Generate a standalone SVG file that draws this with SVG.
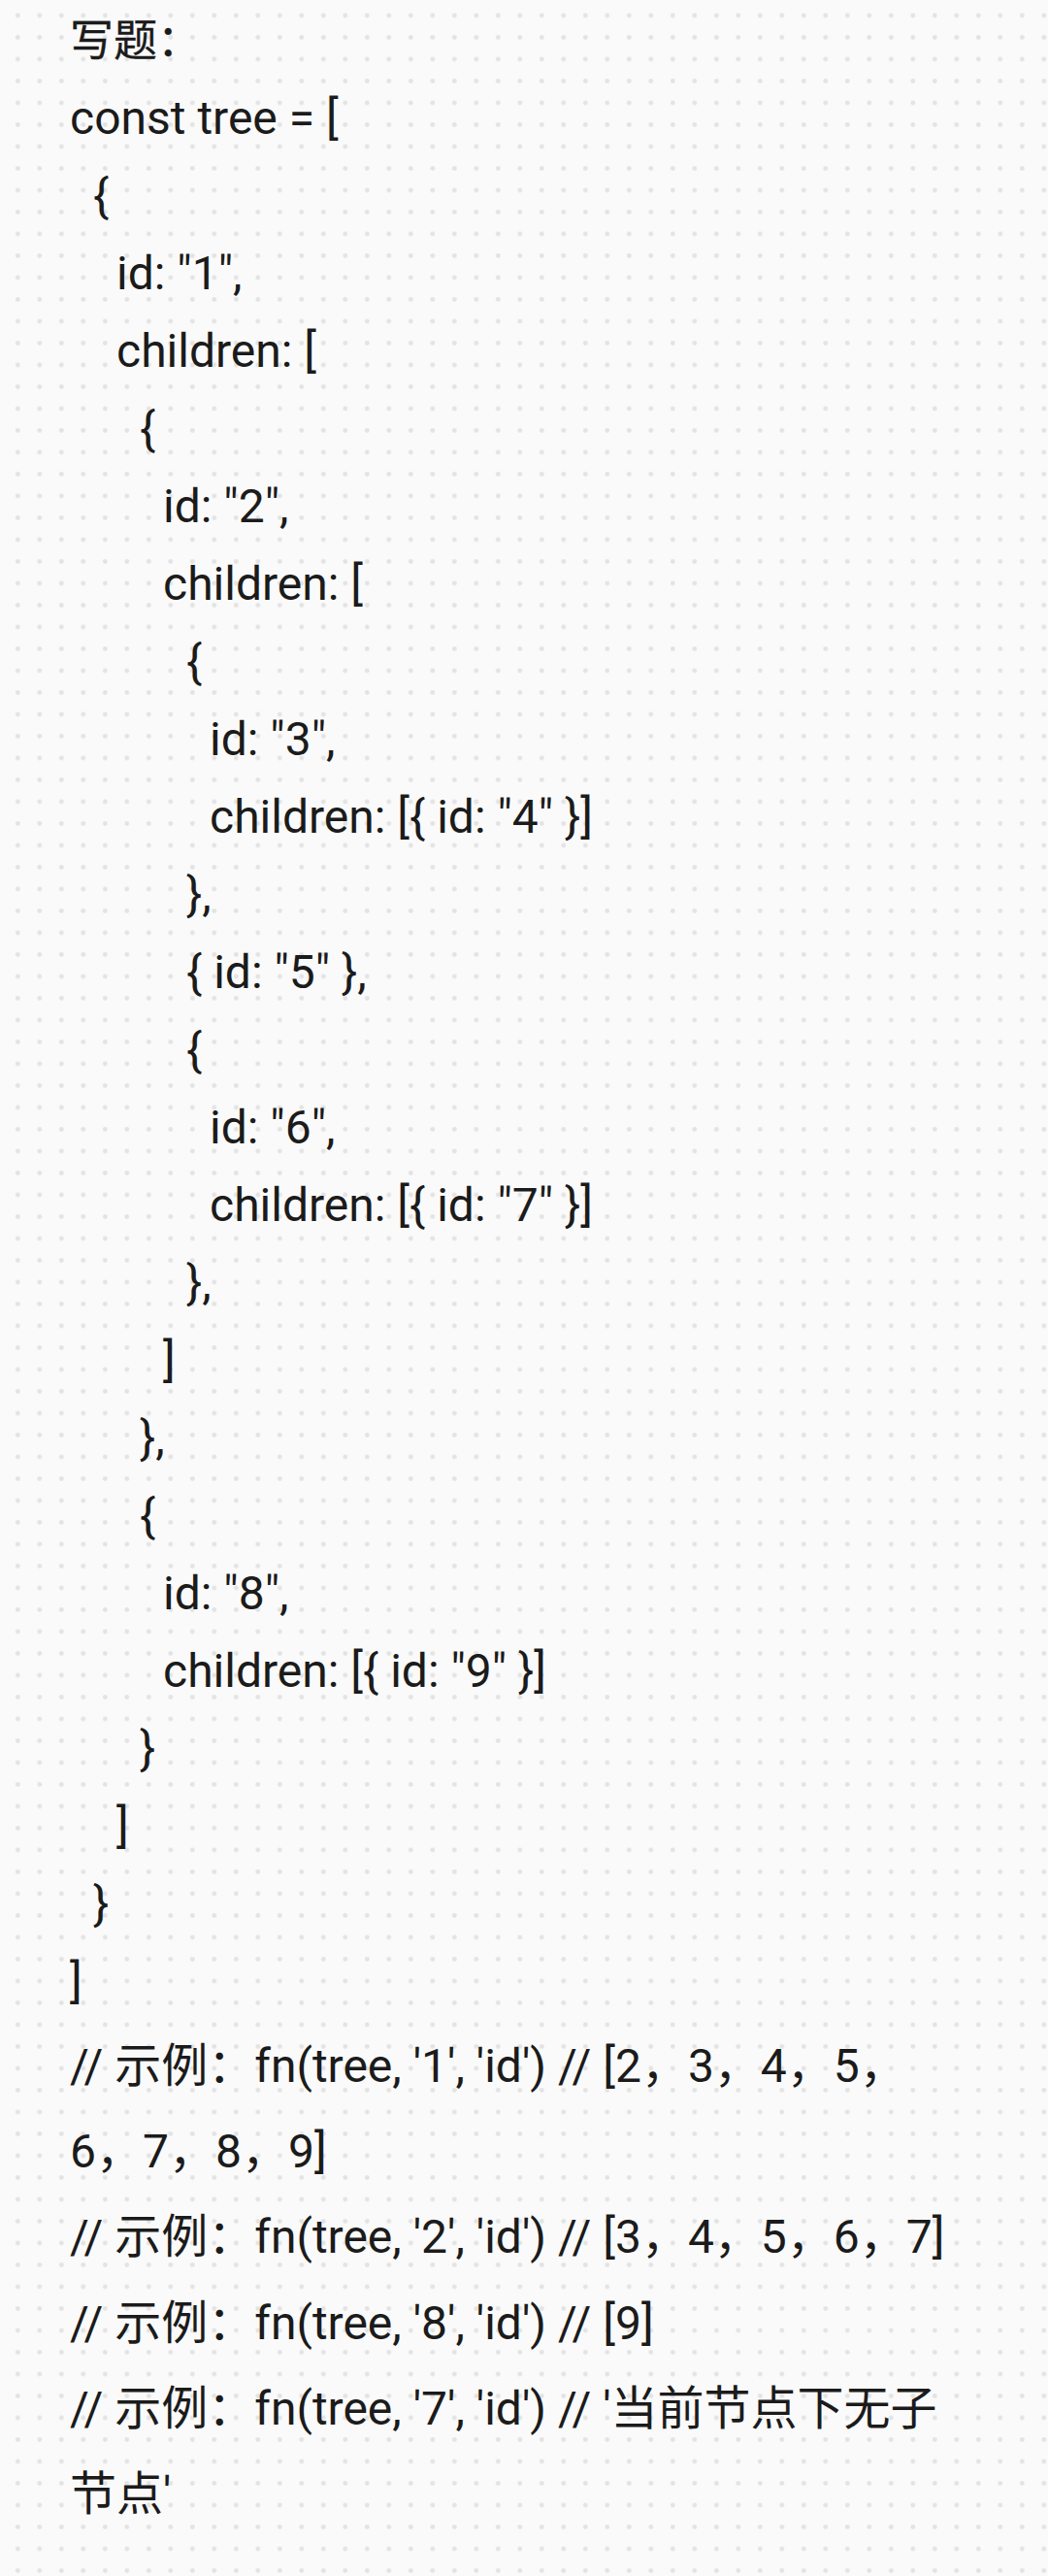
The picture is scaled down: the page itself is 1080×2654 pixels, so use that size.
<svg xmlns="http://www.w3.org/2000/svg" width="1080" height="2654" viewBox="0 0 1080 2654">
<defs>
<pattern id="dots" x="7.05" y="4.75" width="22.5" height="22.5" patternUnits="userSpaceOnUse">
<circle cx="11.25" cy="11.25" r="2.4" fill="#e3e3e3"/>
</pattern>
<style>
text{font-family:Roboto,"Noto Sans CJK SC",sans-serif;font-size:48px;fill:#1b1b1b}
.h{font-size:45px;font-weight:normal;stroke:#1b1b1b;stroke-width:0.3px}
</style>
</defs>
<rect width="1080" height="2654" fill="#fafafa"/>
<rect width="1080" height="2654" fill="url(#dots)"/>
<g id="title"><text class="h" x="72" y="58">写题：</text></g>
<g id="code">
<text x="72" y="138">const tree = [</text>
<text x="96" y="218">{</text>
<text x="120" y="298">id: "1",</text>
<text x="120" y="378">children: [</text>
<text x="144" y="458">{</text>
<text x="168" y="538">id: "2",</text>
<text x="168" y="618">children: [</text>
<text x="192" y="698">{</text>
<text x="216" y="778">id: "3",</text>
<text x="216" y="858">children: [{ id: "4" }]</text>
<text x="192" y="938">},</text>
<text x="192" y="1018">{ id: "5" },</text>
<text x="192" y="1098">{</text>
<text x="216" y="1178">id: "6",</text>
<text x="216" y="1258">children: [{ id: "7" }]</text>
<text x="192" y="1338">},</text>
<text x="168" y="1418">]</text>
<text x="144" y="1498">},</text>
<text x="144" y="1578">{</text>
<text x="168" y="1658">id: "8",</text>
<text x="168" y="1738">children: [{ id: "9" }]</text>
<text x="144" y="1818">}</text>
<text x="120" y="1898">]</text>
<text x="96" y="1978">}</text>
<text x="72" y="2058">]</text>
</g>
<g id="examples">
<text x="72" y="2145">// 示例：fn(tree, '1', 'id') // [2，3，4，5，</text>
<text x="72" y="2233">6，7，8，9]</text>
<text x="72" y="2321">// 示例：fn(tree, '2', 'id') // [3，4，5，6，7]</text>
<text x="72" y="2410">// 示例：fn(tree, '8', 'id') // [9]</text>
<text x="72" y="2498">// 示例：fn(tree, '7', 'id') // '当前节点下无子</text>
<text x="72" y="2586">节点'</text>
</g>
</svg>
